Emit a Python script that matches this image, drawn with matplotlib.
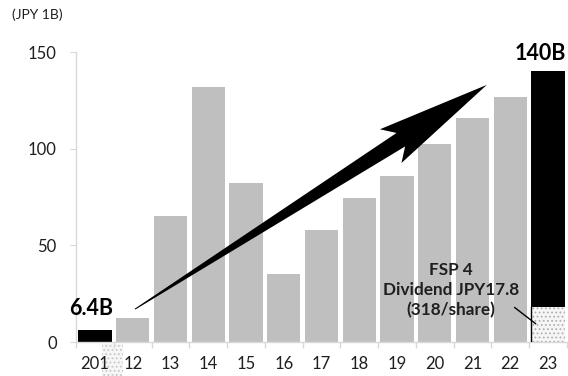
import numpy as np
import matplotlib
matplotlib.use("Agg")
import matplotlib.pyplot as plt
from matplotlib.patches import Polygon
from matplotlib.transforms import IdentityTransform

plt.rcParams["font.family"] = ["Lato", "DejaVu Sans"]
plt.rcParams["hatch.color"] = "#B0B0B0"
plt.rcParams["hatch.linewidth"] = 0.8

# --- data ---
years = ["201", "12", "13", "14", "15", "16", "17", "18", "19", "20", "21", "22", "23"]
profit = [6.4, 12.4, 65.2, 131.9, 82.3, 35.2, 57.9, 74.5, 85.9, 102.4, 115.9, 126.7, 122.0]
dividend_23 = 18.0
highlight = ["201", "23"]  # black bars
stray_dots = [(0.46, -1.0, -19.0)]  # dotted patch under the first label (x, top, bottom)
arrow_from = (1.06, 17.0)
arrow_to = (10.38, 133.0)

GRAY = "#BFBFBF"
AXIS = "#D9D9D9"
TEXT = "#1F1F1F"

fig = plt.figure(figsize=(5.68, 3.76), dpi=100)
ax = fig.add_axes([0.134, 0.0904, 0.864, 0.7713])

x = np.arange(len(years))
colors = ["black" if y in highlight else GRAY for y in years]
bottoms = [dividend_23 if y == "23" else 0 for y in years]
ax.bar(x, profit, bottom=bottoms, width=0.88, color=colors, edgecolor="none", zorder=2)

# dividend portion of the last bar
i23 = years.index("23")
ax.bar(x[i23], dividend_23, width=0.88, color="#F6F6F6", hatch="....",
       edgecolor="#B0B0B0", linewidth=0, zorder=2)
ax.plot([x[i23] - 0.44, x[i23] - 0.44], [0, dividend_23], color="black", lw=1, zorder=3)

for sx, top, bot in stray_dots:
    ax.bar(sx, top - bot, bottom=bot, width=0.55, color="#F6F6F6", hatch="....",
           edgecolor="#C8C8C8", linewidth=0, clip_on=False, zorder=1)

ax.set_xlim(-0.5, len(years) - 0.5)
ax.set_ylim(0, 150)
ax.set_yticks([0, 50, 100, 150])
ax.set_xticks(x)
ax.set_xticklabels(years)
ax.set_xticks(np.arange(-0.5, len(years), 1), minor=True)
ax.tick_params(axis="x", which="major", length=0, pad=10, labelsize=12, labelcolor=TEXT)
ax.tick_params(axis="x", which="minor", length=4, color=AXIS, width=1)
ax.tick_params(axis="y", length=4, color=AXIS, pad=10, labelsize=12, labelcolor=TEXT)

for s in ["top", "right"]:
    ax.spines[s].set_visible(False)
for s in ["left", "bottom"]:
    ax.spines[s].set_color(AXIS)
    ax.spines[s].set_linewidth(1)

fig.text(0.022, 0.962, "(JPY 1B)", fontsize=10, color=TEXT, va="center", ha="left")

ax.text(x[0] - 0.1, 17.5, "6.4B", fontsize=15.5, fontweight="bold", ha="center",
        va="center", color="black", zorder=4)
ax.text(x[i23] - 0.2, 149, "140B", fontsize=15.5, fontweight="bold", ha="center",
        va="center", color="black", clip_on=False, zorder=4)

ax.text(9.42, 26.9, "FSP 4\nDividend JPY17.8\n(318/share)", fontsize=12.3,
        fontweight="bold", ha="center", va="center", linespacing=1.3,
        color=TEXT, zorder=4)
ax.plot([11.12, 11.67], [17.8, 9.5], color="black", lw=1, zorder=4)

# big tapered arrow, built in pixel space so it keeps its shape
fig.canvas.draw()
p0 = ax.transData.transform(arrow_from)
p1 = ax.transData.transform(arrow_to)
d = p1 - p0
L = np.hypot(*d)
u = d / L
n = np.array([-u[1], u[0]])
head_len, head_w, shaft_w = 114, 20, 8
pts = [
    p0 - n * 0.5,
    p0 + u * (L - head_len + 12) - n * shaft_w,
    p0 + u * (L - head_len) - n * head_w,
    p1,
    p0 + u * (L - head_len) + n * head_w,
    p0 + u * (L - head_len + 12) + n * shaft_w,
    p0 + n * 0.5,
]
fig.patches.append(Polygon(pts, closed=True, facecolor="black", edgecolor="none",
                           transform=IdentityTransform(), figure=fig, zorder=5))

fig.savefig("out.png", dpi=100)
